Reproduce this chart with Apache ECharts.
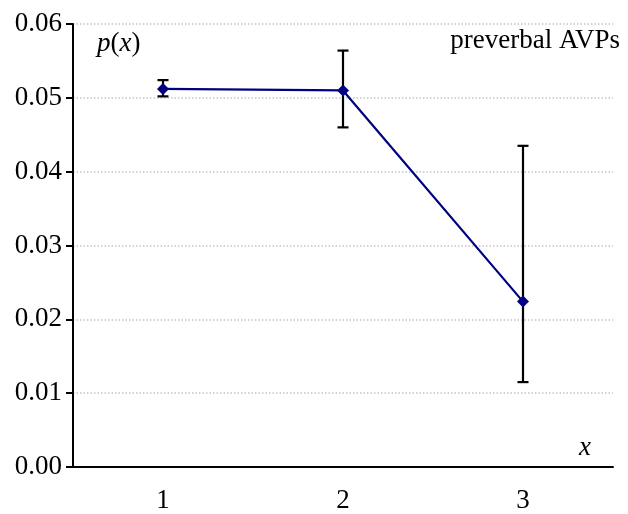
<!DOCTYPE html>
<html>
<head>
<meta charset="utf-8">
<script src="https://cdn.jsdelivr.net/npm/echarts@6/dist/echarts.min.js"></script>
<style>html,body{margin:0;padding:0;background:#fff;}#c{width:628px;height:514px;}</style>
</head>
<body>
<div id="c"></div>
<script>
const categories = ['1', '2', '3'];
const values = [0.0512, 0.0510, 0.0224];
const errLow = [0.0502, 0.0460, 0.0115];
const errHigh = [0.0524, 0.0564, 0.0435];
const yTicks = ['0.00', '0.01', '0.02', '0.03', '0.04', '0.05', '0.06'];

const FONT = '"Liberation Serif", "Times New Roman", serif';
const FS = 27;
const chart = echarts.init(document.getElementById('c'), null, {renderer: 'canvas'});
const errData = categories.map((c, i) => [i, errLow[i], errHigh[i]]);

chart.setOption({
  animation: false,
  backgroundColor: '#fff',
  grid: {left: 73, right: 15, top: 24, bottom: 46, containLabel: false},
  xAxis: {
    type: 'category',
    data: categories,
    boundaryGap: true,
    axisLine: {lineStyle: {color: '#000', width: 2}},
    axisTick: {alignWithLabel: true, length: 7, lineStyle: {color: '#000', width: 2}},
    axisLabel: {color: '#000', fontFamily: FONT, fontSize: FS, margin: 20},
    splitLine: {show: false}
  },
  yAxis: {
    type: 'value',
    min: 0, max: 0.06, interval: 0.01,
    axisLine: {show: true, lineStyle: {color: '#000', width: 2}},
    axisTick: {show: true, length: 7, lineStyle: {color: '#000', width: 2}},
    axisLabel: {color: '#000', fontFamily: FONT, fontSize: FS, margin: 11,
      formatter: (v) => yTicks[Math.round(v * 100)] },
    splitLine: {show: true, lineStyle: {color: '#c4c4c4', type: [1.5, 2], width: 1.5}}
  },
  series: [
    {
      type: 'line',
      data: values,
      symbol: 'diamond',
      symbolSize: 12,
      lineStyle: {color: '#000080', width: 2.2},
      itemStyle: {color: '#000080'},
      z: 3
    },
    {
      type: 'custom',
      data: errData,
      z: 2,
      renderItem: function (params, api) {
        const x = api.value(0);
        const lo = api.coord([x, api.value(1)]);
        const hi = api.coord([x, api.value(2)]);
        const hw = 5.5;
        const st = {stroke: '#000', lineWidth: 2.2, fill: null};
        return {
          type: 'group',
          children: [
            {type: 'line', shape: {x1: lo[0], y1: lo[1], x2: hi[0], y2: hi[1]}, style: st},
            {type: 'line', shape: {x1: hi[0] - hw, y1: hi[1], x2: hi[0] + hw, y2: hi[1]}, style: st},
            {type: 'line', shape: {x1: lo[0] - hw, y1: lo[1], x2: lo[0] + hw, y2: lo[1]}, style: st}
          ]
        };
      }
    }
  ],
  graphic: [
    {type: 'text', left: 97, top: 30, style: {
      text: '{i|p}{n|(}{i|x}{n|)}',
      rich: {
        i: {fontFamily: FONT, fontSize: FS, fontStyle: 'italic', fill: '#000'},
        n: {fontFamily: FONT, fontSize: FS, fill: '#000'}
      }
    }},
    {type: 'text', right: 8, top: 27, style: {text: 'preverbal AVPs', fontFamily: FONT, fontSize: FS, fill: '#000'}},
    {type: 'text', left: 579, top: 434, style: {text: 'x', fontFamily: FONT, fontSize: FS, fontStyle: 'italic', fill: '#000'}}
  ]
});
</script>
</body>
</html>
